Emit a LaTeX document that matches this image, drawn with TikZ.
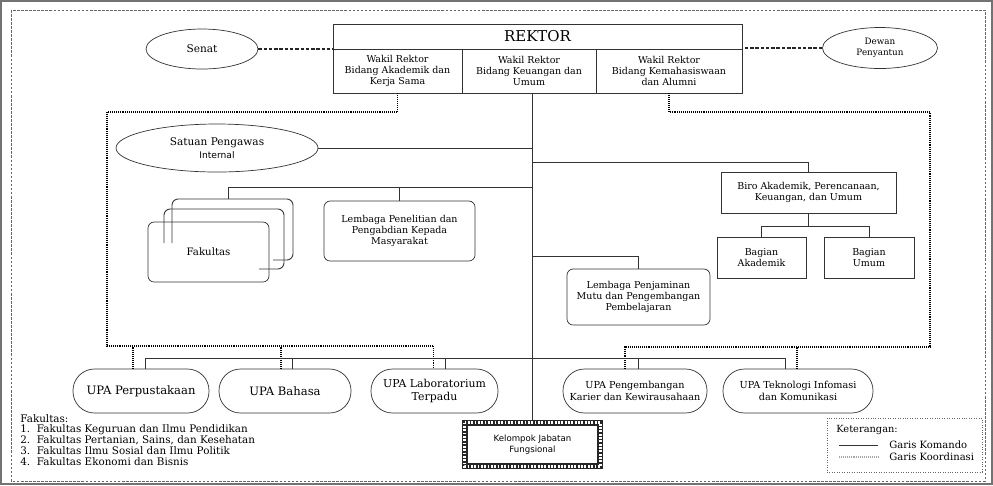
\documentclass[tikz,border=0pt]{standalone}
\usepackage{fontspec}
\setmainfont{DejaVu Serif}
\setsansfont{DejaVu Sans}
\usetikzlibrary{shapes.geometric}

\newcommand{\pxu}{0.02cm}
\newcommand{\kecil}{\fontsize{5.4}{6.3}\selectfont}

\tikzset{
  komando/.style={draw=black!80, line width=0.5pt},
  koord/.style={draw=black, dash pattern=on 0.5pt off 0.6pt, line width=0.65pt},
  hubung/.style={draw=black!85, dash pattern=on 2pt off 1pt, line width=1pt},
  kotak/.style={draw=black!80, rectangle, align=center, inner sep=0pt, font=\kecil},
  kartu/.style={kotak, rounded corners=3.5pt},
  bulat/.style={draw=black!80, ellipse, align=center, inner sep=0pt, font=\kecil},
  upa/.style={kotak, rounded corners=0.43cm, minimum height=44*\pxu,
    font=\fontsize{6.6}{7.4}\selectfont}
}

\begin{document}
\begin{tikzpicture}[x=0.02cm, y=-0.02cm]
  \useasboundingbox (0,0) rectangle (993,485);
  % bingkai
  \draw[black!55, line width=0.8pt] (1,1) rectangle (992,484);
  \draw[black!60, dash pattern=on 1.5pt off 0.8pt, line width=0.5pt] (11,10) rectangle (985,481);

  % pimpinan
  \node[kotak, minimum width=409*\pxu, minimum height=25*\pxu,
    font=\fontsize{8.5}{10}\selectfont] (rektor) at (537.5,36.5) {REKTOR};
  \node[kotak, minimum width=129*\pxu, minimum height=44*\pxu] (wr1) at (397.5,71)
    {Wakil Rektor\\Bidang Akademik dan\\Kerja Sama};
  \node[kotak, minimum width=134*\pxu, minimum height=44*\pxu] (wr2) at (529,71)
    {Wakil Rektor\\Bidang Keuangan dan\\Umum};
  \node[kotak, minimum width=146*\pxu, minimum height=44*\pxu] (wr3) at (669,71)
    {Wakil Rektor\\Bidang Kemahasiswaan\\dan Alumni};

  \node[bulat, minimum width=112*\pxu, minimum height=40*\pxu,
    font=\fontsize{6}{7}\selectfont] (senat) at (202,49) {Senat};
  \node[bulat, minimum width=115*\pxu, minimum height=41*\pxu,
    font=\fontsize{5}{6.2}\selectfont] (dewan) at (880,48) {Dewan\\Penyantun};
  \node[bulat, minimum width=202*\pxu, minimum height=48*\pxu,
    font=\fontsize{6}{7.4}\selectfont] (spi) at (217,148)
    {Satuan Pengawas\\{\sffamily\fontsize{5.2}{6}\selectfont Internal}};

  % unit
  \node[kartu, minimum width=121*\pxu, minimum height=60*\pxu,
    font=\fontsize{5.8}{7}\selectfont] (fak) at (208.5,252) {Fakultas};
  \draw[komando, rounded corners=3.5pt] (172,243) |- (293,199) |- (273,260);
  \draw[komando, rounded corners=3.5pt] (164,243) |- (284,209) |- (259,269);
  \coordinate (fakb) at (228,199);
  \node[kartu, minimum width=151*\pxu, minimum height=60*\pxu] (lppm) at (399.5,231)
    {Lembaga Penelitian dan\\Pengabdian Kepada\\Masyarakat};
  \node[kotak, minimum width=175*\pxu, minimum height=41*\pxu] (biro) at (808.5,192.5)
    {Biro Akademik, Perencanaan,\\Keuangan, dan Umum};
  \node[kotak, minimum width=89*\pxu, minimum height=41*\pxu] (bagak) at (761.5,257.5)
    {Bagian\\Akademik};
  \node[kotak, minimum width=90*\pxu, minimum height=41*\pxu] (bagum) at (869,257.5)
    {Bagian\\Umum};
  \node[kartu, minimum width=143*\pxu, minimum height=56*\pxu] (lpm) at (638.5,297)
    {Lembaga Penjaminan\\Mutu dan Pengembangan\\Pembelajaran};

  \node[upa, minimum width=136*\pxu] (upa1) at (141,391) {UPA Perpustakaan};
  \node[upa, minimum width=132*\pxu] (upa2) at (285,391) {UPA Bahasa};
  \node[upa, minimum width=127*\pxu, font=\fontsize{6.2}{7}\selectfont] (upa3) at (434.5,391)
    {UPA Laboratorium\\Terpadu};
  \node[upa, minimum width=144*\pxu, font=\fontsize{5.5}{6.5}\selectfont] (upa4) at (635,391)
    {UPA Pengembangan\\Karier dan Kewirausahaan};
  \node[upa, minimum width=150*\pxu, font=\fontsize{5.5}{6.5}\selectfont] (upa5) at (798,391)
    {UPA Teknologi Infomasi\\dan Komunikasi};

  \node[kotak, draw=none, minimum width=141*\pxu, minimum height=49*\pxu,
    font=\sffamily\fontsize{4.9}{6.6}\selectfont] (kjf) at (532.5,444.5)
    {Kelompok Jabatan\\Fungsional};
  \draw[black!85, line width=3.4pt] ([shift={(1.7pt,-1.7pt)}]kjf.north west)
    rectangle ([shift={(-1.7pt,1.7pt)}]kjf.south east);
  \draw[white, line width=2pt, dash pattern=on 1pt off 0.9pt]
    ([shift={(1.7pt,-1.7pt)}]kjf.north west) rectangle ([shift={(-1.7pt,1.7pt)}]kjf.south east);

  % garis koordinasi
  \draw[hubung] (senat.east) -- (senat.east -| rektor.west);
  \draw[hubung] (dewan.west) -- (dewan.west -| rektor.east);
  \coordinate (kl1) at (107,112);
  \coordinate (kl2) at (107,346);
  \coordinate (kr1) at (930,112);
  \coordinate (kr2) at (930,347);
  \draw[koord] (wr1.south) |- (kl1) -- (kl2) -| ([xshift=-1*\pxu]upa3.north);
  \foreach \n/\s in {upa1/-8, upa2/-4}
    \draw[koord] ([xshift=\s*\pxu]\n.north) -- ++(0,-23);
  \draw[koord] (wr3.south) |- (kr1) -- (kr2) -| ([xshift=-10*\pxu]upa4.north);
  \draw[koord] ([xshift=-1*\pxu]upa5.north) -- ++(0,-22);

  % garis komando
  \coordinate (jf) at (533,187);
  \coordinate (jb) at (533,162);
  \coordinate (jl) at (533,256);
  \draw[komando] (kjf.north |- wr2.south) -- (kjf.north);
  \draw[komando] (spi.east) -- (spi.east -| kjf.north);
  \draw[komando] (fakb) |- (jf);
  \draw[komando] (lppm.north) -- (lppm.north |- jf);
  \draw[komando] (jb) -| (biro.north);
  \draw[komando] (jl) -| (lpm.north);
  \coordinate (bg) at (810,226);
  \draw[komando] (biro.south) -- (biro.south |- bg);
  \draw[komando] (bagak.north) |- (bg) -| (bagum.north);
  \draw[komando] ([xshift=4*\pxu]upa1.north) -- ++(0,-10) -| ([xshift=-13*\pxu]upa5.north);
  \foreach \n/\s in {upa2/7, upa3/11, upa4/3}
    \draw[komando] ([xshift=\s*\pxu]\n.north) -- ++(0,-10);

  % keterangan fakultas
  \node[anchor=north west, align=left, inner sep=0pt, font=\fontsize{5.9}{6.1}\selectfont]
    (daftar) at (20,414)
    {Fakultas:\\
     1.\ \ Fakultas Keguruan dan Ilmu Pendidikan\\
     2.\ \ Fakultas Pertanian, Sains, dan Kesehatan\\
     3.\ \ Fakultas Ilmu Sosial dan Ilmu Politik\\
     4.\ \ Fakultas Ekonomi dan Bisnis};

  % legenda
  \node[draw=black!60, densely dotted, minimum width=155*\pxu, minimum height=54*\pxu]
    (leg) at (904.5,445) {};
  \node[anchor=west, inner sep=0pt, font=\fontsize{5.6}{6}\selectfont] (ket) at (836,430) {Keterangan:};
  \coordinate (lk1) at (839,445);
  \coordinate (lk2) at (878,445);
  \coordinate (lo1) at (839,457);
  \coordinate (lo2) at (878,457);
  \draw[komando] (lk1) -- (lk2);
  \draw[koord, draw=black!35] (lo1) -- (lo2);
  \node[anchor=west, inner sep=0pt, font=\fontsize{5.7}{6}\selectfont] (gk) at (889,445) {Garis Komando};
  \node[anchor=west, inner sep=0pt, font=\fontsize{5.7}{6}\selectfont] (gko) at (889,457) {Garis Koordinasi};
\end{tikzpicture}
\end{document}
